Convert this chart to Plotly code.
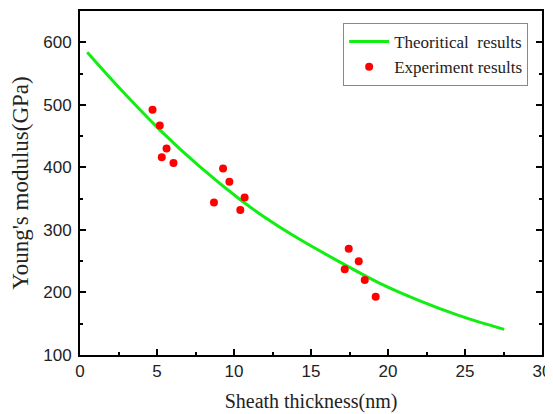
import plotly.graph_objects as go

# Theoretical curve
theory_x = [0.47, 2.59, 5.18, 7.78, 10.37, 12.31, 14.26, 16.85, 19.44, 22.03, 24.63, 27.54]
theory_y = [584, 526, 460, 401, 349, 315, 285, 249, 215, 187, 163, 141]

# Experiment points
exp_x = [4.71, 5.18, 5.62, 5.31, 6.07, 9.29, 9.70, 10.69, 8.70, 10.41, 17.45, 18.10, 17.19, 18.49, 19.20]
exp_y = [492, 467, 430, 416, 407, 398, 377, 352, 344, 332, 270, 250, 237, 220, 193]

x_ticks = [0, 5, 10, 15, 20, 25, 30]
y_ticks = [100, 200, 300, 400, 500, 600]

fig = go.Figure()
fig.add_trace(go.Scatter(
    x=theory_x, y=theory_y, mode="lines", name="Theoritical  results",
    line=dict(color="#11ee11", width=3, shape="spline", smoothing=1.0),
))
fig.add_trace(go.Scatter(
    x=exp_x, y=exp_y, mode="markers", name="Experiment results",
    marker=dict(color="#ff0000", size=8),
))

axis_common = dict(
    showline=True, linecolor="black", linewidth=2,
    ticks="inside", ticklen=6, tickwidth=2, tickcolor="black",
    showgrid=False, zeroline=False, automargin=False,
    tickfont=dict(family="Liberation Sans, Arial", size=17, color="#222"),
    minor=dict(ticks="inside", ticklen=3, tickwidth=2, tickcolor="black", showgrid=False),
)

# page body has an 8px margin, so the figure is drawn offset by 8px
fig.update_layout(
    width=545, height=406,
    margin=dict(l=72, r=11, t=3, b=59),
    paper_bgcolor="white", plot_bgcolor="white",
    showlegend=True,
    legend=dict(
        x=0.97, y=0.965, xanchor="right", yanchor="top",
        bordercolor="#888", borderwidth=1, bgcolor="white",
        font=dict(family="Liberation Serif, Times New Roman", size=17, color="#222"),
        tracegroupgap=0, itemwidth=40,
    ),
    xaxis=dict(
        range=[0, 30], tickvals=x_ticks, mirror=True,
        title=dict(text="Sheath thickness(nm)", standoff=14,
                   font=dict(family="Liberation Serif, Times New Roman", size=20, color="#222")),
        **axis_common,
    ),
    yaxis=dict(
        range=[100, 650], tickvals=y_ticks, mirror="allticks", ticklabelstandoff=3,
        title=dict(text="Young's modulus(GPa)", standoff=14,
                   font=dict(family="Liberation Serif, Times New Roman", size=23, color="#222")),
        **axis_common,
    ),
)
fig.update_xaxes(minor=dict(dtick=2.5, tick0=0))
fig.update_yaxes(minor=dict(dtick=50, tick0=0))

fig.write_html("out.html")
